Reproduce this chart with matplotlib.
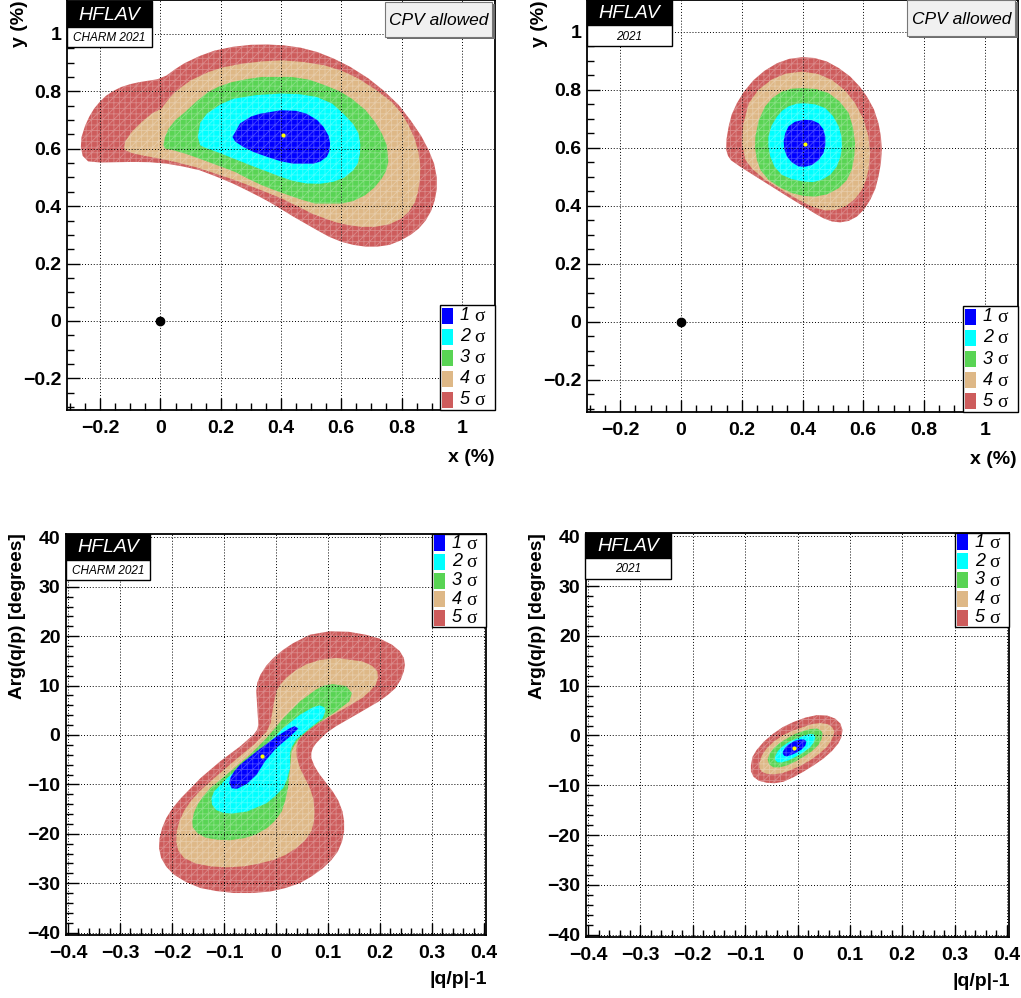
import numpy as np
import matplotlib
matplotlib.use("Agg")
import matplotlib.pyplot as plt
from matplotlib.patches import Rectangle
from matplotlib.ticker import MultipleLocator, FuncFormatter

plt.rcParams['font.family'] = ['Liberation Sans', 'DejaVu Sans']
plt.rcParams['hatch.linewidth'] = 0.6

# ---------------- data (contour boundaries) ----------------
sigma_labels = ["1", "2", "3", "4", "5"]
sigma_colors = ["#0000ff", "#00ffff", "#59d454", "#deb887", "#cd5c5c"]

# top-left: x (%) vs y (%), CHARM 2021
tl_1sigma = [(0.239, 0.641), (0.264, 0.688), (0.300, 0.712), (0.331, 0.722), (0.399, 0.734), (0.450, 0.732),
             (0.485, 0.722), (0.520, 0.700), (0.541, 0.676), (0.558, 0.645), (0.563, 0.618), (0.560, 0.590),
             (0.552, 0.572), (0.530, 0.555), (0.507, 0.548), (0.441, 0.548), (0.400, 0.556), (0.353, 0.572),
             (0.310, 0.588), (0.275, 0.606), (0.248, 0.625)]
tl_2sigma = [(0.124, 0.641), (0.132, 0.690), (0.154, 0.722), (0.200, 0.755), (0.242, 0.774), (0.320, 0.787),
             (0.399, 0.792), (0.460, 0.790), (0.519, 0.780), (0.570, 0.757), (0.607, 0.722), (0.640, 0.685),
             (0.657, 0.653), (0.663, 0.615), (0.662, 0.583), (0.655, 0.550), (0.640, 0.525), (0.610, 0.500),
             (0.574, 0.485), (0.530, 0.478), (0.485, 0.479), (0.440, 0.488), (0.399, 0.502), (0.350, 0.522),
             (0.297, 0.543), (0.240, 0.567), (0.187, 0.589), (0.150, 0.603), (0.132, 0.612)]
tl_3sigma = [(0.010, 0.612), (0.015, 0.640), (0.027, 0.670), (0.050, 0.700), (0.082, 0.728), (0.120, 0.765),
             (0.159, 0.798), (0.195, 0.817), (0.237, 0.832), (0.290, 0.843), (0.336, 0.850), (0.436, 0.850),
             (0.495, 0.840), (0.546, 0.821), (0.595, 0.800), (0.635, 0.774), (0.680, 0.735), (0.712, 0.693),
             (0.735, 0.652), (0.751, 0.612), (0.756, 0.554), (0.748, 0.522), (0.734, 0.496), (0.710, 0.465),
             (0.679, 0.438), (0.640, 0.418), (0.601, 0.409), (0.513, 0.409), (0.470, 0.422), (0.425, 0.438),
             (0.380, 0.455), (0.336, 0.473), (0.290, 0.496), (0.248, 0.519), (0.200, 0.538), (0.159, 0.554),
             (0.120, 0.569), (0.082, 0.583), (0.045, 0.594), (0.015, 0.601)]
tl_4sigma = [(-0.120, 0.605), (-0.117, 0.625), (-0.095, 0.659), (-0.060, 0.695), (-0.029, 0.722), (0.004, 0.740),
             (0.025, 0.770), (0.049, 0.798), (0.100, 0.838), (0.159, 0.867), (0.210, 0.884), (0.270, 0.896),
             (0.335, 0.904), (0.402, 0.908), (0.475, 0.902), (0.546, 0.890), (0.605, 0.870), (0.657, 0.844),
             (0.715, 0.805), (0.767, 0.763), (0.800, 0.723), (0.823, 0.682), (0.843, 0.636), (0.856, 0.589),
             (0.862, 0.540), (0.861, 0.496), (0.855, 0.452), (0.845, 0.415), (0.825, 0.382), (0.800, 0.357),
             (0.760, 0.337), (0.712, 0.328), (0.665, 0.328), (0.624, 0.334), (0.585, 0.343), (0.546, 0.357),
             (0.505, 0.373), (0.469, 0.392), (0.402, 0.427), (0.345, 0.451), (0.292, 0.473), (0.235, 0.495),
             (0.181, 0.514), (0.120, 0.535), (0.049, 0.554), (-0.010, 0.567), (-0.062, 0.577), (-0.095, 0.585),
             (-0.117, 0.595)]
tl_5sigma = [(-0.264, 0.606), (-0.262, 0.640), (-0.250, 0.680), (-0.236, 0.712), (-0.220, 0.740), (-0.200, 0.765),
             (-0.180, 0.785), (-0.155, 0.802), (-0.130, 0.815), (-0.100, 0.825), (-0.070, 0.832), (-0.040, 0.837),
             (-0.010, 0.842), (0.020, 0.855), (0.050, 0.878), (0.080, 0.898), (0.130, 0.923), (0.180, 0.942),
             (0.240, 0.955), (0.300, 0.962), (0.355, 0.963), (0.410, 0.960), (0.465, 0.952), (0.520, 0.937),
             (0.575, 0.914), (0.630, 0.885), (0.690, 0.845), (0.740, 0.803), (0.790, 0.753), (0.830, 0.699),
             (0.865, 0.645), (0.890, 0.595), (0.908, 0.548), (0.917, 0.500), (0.917, 0.460), (0.910, 0.420),
             (0.898, 0.383), (0.880, 0.350), (0.857, 0.322), (0.830, 0.300), (0.796, 0.280), (0.760, 0.265),
             (0.720, 0.259), (0.680, 0.259), (0.640, 0.265), (0.600, 0.276), (0.560, 0.293), (0.520, 0.316),
             (0.480, 0.340), (0.440, 0.364), (0.400, 0.390), (0.360, 0.415), (0.330, 0.432), (0.285, 0.456),
             (0.240, 0.479), (0.185, 0.503), (0.130, 0.525), (0.075, 0.538), (0.020, 0.548), (-0.035, 0.553),
             (-0.090, 0.554), (-0.150, 0.553), (-0.200, 0.552), (-0.240, 0.556), (-0.258, 0.575)]
tl_best = (0.406, 0.647)

# top-right: x (%) vs y (%), 2021
tr_1sigma = [(0.404, 0.697), (0.432, 0.695), (0.453, 0.685), (0.468, 0.665), (0.475, 0.639), (0.475, 0.610),
             (0.469, 0.582), (0.453, 0.558), (0.431, 0.541), (0.409, 0.535), (0.387, 0.536), (0.365, 0.550),
             (0.349, 0.570), (0.340, 0.596), (0.338, 0.622), (0.343, 0.650), (0.354, 0.674), (0.375, 0.690)]
tr_2sigma = [(0.404, 0.754), (0.442, 0.750), (0.475, 0.737), (0.500, 0.710), (0.519, 0.674), (0.528, 0.640),
             (0.530, 0.605), (0.525, 0.570), (0.513, 0.536), (0.492, 0.508), (0.464, 0.490), (0.435, 0.482),
             (0.404, 0.484), (0.365, 0.492), (0.332, 0.507), (0.308, 0.535), (0.294, 0.570), (0.288, 0.605),
             (0.288, 0.639), (0.298, 0.676), (0.316, 0.708), (0.334, 0.729), (0.354, 0.743), (0.380, 0.752)]
tr_3sigma = [(0.398, 0.806), (0.445, 0.803), (0.486, 0.789), (0.522, 0.760), (0.552, 0.720), (0.566, 0.670),
             (0.573, 0.616), (0.570, 0.568), (0.562, 0.524), (0.545, 0.488), (0.519, 0.461), (0.482, 0.440),
             (0.442, 0.432), (0.405, 0.434), (0.365, 0.444), (0.325, 0.464), (0.288, 0.490), (0.262, 0.523),
             (0.250, 0.559), (0.244, 0.600), (0.245, 0.639), (0.256, 0.695), (0.277, 0.743), (0.302, 0.773),
             (0.332, 0.794), (0.365, 0.804)]
tr_4sigma = [(0.398, 0.863), (0.450, 0.855), (0.497, 0.834), (0.540, 0.798), (0.573, 0.754), (0.600, 0.700),
             (0.617, 0.639), (0.622, 0.580), (0.617, 0.524), (0.608, 0.487), (0.595, 0.455), (0.572, 0.423),
             (0.541, 0.398), (0.508, 0.386), (0.475, 0.384), (0.430, 0.398), (0.387, 0.421), (0.330, 0.456),
             (0.277, 0.490), (0.235, 0.527), (0.212, 0.559), (0.201, 0.616), (0.205, 0.680), (0.223, 0.754),
             (0.255, 0.800), (0.299, 0.836), (0.345, 0.856)]
tr_5sigma = [(0.400, 0.913), (0.356, 0.907), (0.316, 0.892), (0.275, 0.866), (0.239, 0.834), (0.208, 0.795),
             (0.184, 0.754), (0.167, 0.715), (0.157, 0.674), (0.150, 0.630), (0.149, 0.593), (0.155, 0.572),
             (0.165, 0.557), (0.195, 0.535), (0.228, 0.513), (0.272, 0.484), (0.316, 0.455), (0.360, 0.426),
             (0.404, 0.398), (0.440, 0.374), (0.469, 0.357), (0.497, 0.346), (0.524, 0.343), (0.552, 0.348),
             (0.579, 0.363), (0.603, 0.388), (0.623, 0.421), (0.640, 0.460), (0.650, 0.501), (0.658, 0.547),
             (0.661, 0.593), (0.658, 0.640), (0.650, 0.685), (0.635, 0.733), (0.612, 0.777), (0.587, 0.813),
             (0.557, 0.846), (0.520, 0.875), (0.480, 0.898), (0.440, 0.910)]
tr_best = (0.409, 0.614)

# bottom-left: |q/p|-1 vs Arg(q/p) [degrees], CHARM 2021
bl_1sigma = [(0.036, 1.8), (0.043, 1.3), (0.027, -0.3), (0.001, -2.6), (-0.021, -5.3), (-0.037, -8.0),
             (-0.056, -9.9), (-0.075, -10.9), (-0.085, -10.8), (-0.090, -9.8), (-0.088, -8.7), (-0.080, -7.3),
             (-0.069, -6.0), (-0.037, -3.3), (0.001, -0.3), (0.027, 1.4)]
bl_2sigma = [(0.084, 6.0), (0.093, 5.6), (0.095, 4.9), (0.090, 3.4), (0.065, 1.4), (0.039, -0.9),
             (0.030, -2.5), (0.027, -3.6), (0.027, -6.7), (0.021, -9.0), (0.014, -10.7), (-0.002, -12.4),
             (-0.018, -13.8), (-0.056, -15.5), (-0.085, -15.9), (-0.100, -15.8), (-0.115, -15.2), (-0.123, -14.1),
             (-0.124, -12.8), (-0.119, -11.4), (-0.094, -8.7), (-0.056, -5.3), (-0.018, -2.0), (0.014, 1.4),
             (0.046, 4.1), (0.071, 5.6)]
bl_3sigma = [(0.109, 10.3), (0.135, 9.9), (0.146, 8.5), (0.141, 6.8), (0.116, 4.8), (0.077, 2.1),
             (0.058, 0.6), (0.046, -0.6), (0.036, -2.0), (0.030, -3.3), (0.027, -6.7), (0.023, -10.7),
             (0.018, -13.2), (0.011, -15.5), (-0.003, -17.5), (-0.018, -18.9), (-0.040, -20.2), (-0.062, -20.9),
             (-0.088, -21.3), (-0.113, -21.2), (-0.135, -20.8), (-0.151, -19.9), (-0.160, -18.7), (-0.161, -17.5),
             (-0.158, -15.8), (-0.151, -14.1), (-0.140, -12.4), (-0.126, -10.7), (-0.088, -7.4), (-0.050, -4.0),
             (-0.018, -0.6), (0.014, 3.4), (0.046, 6.8), (0.077, 9.2), (0.092, 10.0)]
bl_4sigma = [(0.116, 15.6), (0.166, 14.9), (0.185, 14.0), (0.195, 12.9), (0.196, 11.6), (0.192, 10.2),
             (0.180, 8.8), (0.166, 7.5), (0.122, 4.8), (0.077, 2.1), (0.052, 0.1), (0.042, -1.3),
             (0.039, -2.6), (0.040, -4.5), (0.046, -6.7), (0.056, -8.8), (0.065, -10.7), (0.072, -13.0),
             (0.074, -15.5), (0.073, -17.5), (0.068, -19.5), (0.056, -21.3), (0.039, -22.9), (0.018, -24.3),
             (-0.005, -25.3), (-0.035, -26.1), (-0.062, -26.6), (-0.095, -26.8), (-0.126, -26.6), (-0.155, -26.0),
             (-0.177, -24.9), (-0.188, -23.4), (-0.192, -21.6), (-0.191, -19.5), (-0.186, -17.5), (-0.177, -15.4),
             (-0.164, -13.4), (-0.147, -11.4), (-0.126, -9.4), (-0.081, -5.3), (-0.043, -2.0), (-0.018, 0.7),
             (-0.010, 2.5), (-0.008, 4.1), (-0.004, 6.5), (0.001, 8.9), (0.009, 10.3), (0.020, 11.6),
             (0.038, 13.1), (0.058, 14.3), (0.085, 15.2)]
bl_5sigma = [(0.103, 21.0), (0.140, 20.9), (0.173, 20.3), (0.200, 19.5), (0.223, 18.3), (0.238, 17.0),
             (0.246, 15.6), (0.248, 14.2), (0.246, 12.9), (0.240, 11.2), (0.230, 9.5), (0.215, 8.1),
             (0.198, 6.8), (0.154, 4.1), (0.116, 1.8), (0.098, 0.5), (0.087, -0.6), (0.077, -1.7),
             (0.071, -2.6), (0.068, -3.6), (0.068, -4.7), (0.074, -6.3), (0.084, -8.0), (0.109, -11.4),
             (0.120, -13.3), (0.128, -15.5), (0.131, -17.5), (0.131, -19.5), (0.127, -21.6), (0.119, -23.6),
             (0.106, -25.4), (0.090, -27.0), (0.069, -28.6), (0.046, -30.0), (0.018, -31.0), (-0.011, -31.7),
             (-0.045, -32.0), (-0.081, -32.0), (-0.115, -31.6), (-0.145, -31.0), (-0.173, -29.8), (-0.196, -28.3),
             (-0.211, -26.7), (-0.221, -24.9), (-0.225, -22.9), (-0.224, -20.9), (-0.219, -18.8), (-0.211, -16.8),
             (-0.199, -14.8), (-0.183, -12.8), (-0.145, -8.7), (-0.107, -5.3), (-0.069, -2.3), (-0.043, 0.1),
             (-0.036, 1.1), (-0.034, 2.1), (-0.035, 3.8), (-0.036, 5.5), (-0.038, 8.9), (-0.036, 10.6),
             (-0.030, 12.2), (-0.019, 14.0), (-0.005, 15.6), (0.013, 17.2), (0.033, 18.6), (0.065, 20.3)]
bl_best = (-0.026, -4.3)

# bottom-right: |q/p|-1 vs Arg(q/p) [degrees], 2021
br_1sigma = [(-0.028, -3.3), (-0.024, -2.5), (-0.017, -1.8), (-0.006, -1.1), (0.005, -0.8), (0.013, -0.8),
             (0.017, -1.2), (0.015, -2.0), (0.008, -2.8), (-0.001, -3.4), (-0.011, -3.9), (-0.020, -4.2),
             (-0.025, -4.1), (-0.028, -3.7)]
br_2sigma = [(-0.043, -4.3), (-0.038, -3.2), (-0.030, -2.3), (-0.016, -1.3), (-0.001, -0.6), (0.013, 0.0),
             (0.024, 0.3), (0.031, 0.2), (0.034, -0.4), (0.031, -1.4), (0.024, -2.4), (0.011, -3.4),
             (-0.004, -4.3), (-0.017, -5.0), (-0.030, -5.4), (-0.038, -5.4), (-0.043, -4.9)]
br_3sigma = [(-0.057, -4.8), (-0.053, -3.6), (-0.046, -2.6), (-0.034, -1.5), (-0.020, -0.6), (-0.005, 0.3),
             (0.011, 0.9), (0.025, 1.3), (0.037, 1.4), (0.045, 1.0), (0.048, 0.4), (0.046, -0.7),
             (0.040, -1.9), (0.027, -3.2), (0.011, -4.3), (-0.005, -5.3), (-0.020, -6.0), (-0.034, -6.4),
             (-0.046, -6.4), (-0.054, -5.8)]
br_4sigma = [(-0.073, -5.6), (-0.068, -4.0), (-0.059, -2.6), (-0.045, -1.2), (-0.027, 0.1), (-0.008, 1.0),
             (0.011, 1.7), (0.028, 2.3), (0.043, 2.5), (0.057, 2.3), (0.066, 1.7), (0.070, 0.9),
             (0.069, 0.1), (0.064, -1.1), (0.056, -2.3), (0.041, -3.7), (0.024, -5.0), (0.005, -6.1),
             (-0.014, -7.0), (-0.030, -7.6), (-0.046, -7.8), (-0.059, -7.7), (-0.068, -7.3), (-0.073, -6.5)]
br_5sigma = [(-0.089, -6.0), (-0.086, -4.3), (-0.078, -2.9), (-0.064, -1.2), (-0.046, 0.4), (-0.028, 1.7),
             (-0.008, 2.7), (0.015, 3.6), (0.037, 4.1), (0.057, 4.0), (0.072, 3.4), (0.082, 2.4),
             (0.086, 1.1), (0.084, -0.3), (0.078, -1.6), (0.066, -3.1), (0.050, -4.6), (0.031, -6.0),
             (0.011, -7.3), (-0.008, -8.4), (-0.027, -9.3), (-0.044, -9.6), (-0.059, -9.5), (-0.074, -9.1),
             (-0.084, -8.3), (-0.089, -7.2)]
br_best = (-0.006, -2.5)

no_mixing_point = (0.0, 0.0)

# ---------------- figure ----------------
W, H = 1021, 998
fig = plt.figure(figsize=(W / 100, H / 100), dpi=100)
fig.patch.set_facecolor("white")


def fx(px):
    return px / W


def fy(py):
    return 1 - py / H


def add_axes_px(x0, y0, x1, y1):
    return fig.add_axes([fx(x0), fy(y1), fx(x1 - x0), (y1 - y0) / H])


def fmt(v, p):
    s = "%g" % round(v, 6)
    if s in ("-0",):
        s = "0"
    return s.replace("-", "\u2212")


def style_axes(ax, xlim, ylim, xmaj, xmin, ymaj, ymin):
    ax.set_xlim(*xlim)
    ax.set_ylim(*ylim)
    ax.xaxis.set_major_locator(MultipleLocator(xmaj))
    ax.xaxis.set_minor_locator(MultipleLocator(xmin))
    ax.yaxis.set_major_locator(MultipleLocator(ymaj))
    ax.yaxis.set_minor_locator(MultipleLocator(ymin))
    ax.xaxis.set_major_formatter(FuncFormatter(fmt))
    ax.yaxis.set_major_formatter(FuncFormatter(fmt))
    ax.tick_params(which="both", direction="in", top=False, right=False, width=1, color="black")
    ax.tick_params(which="major", length=9)
    ax.tick_params(which="minor", length=5)
    ax.tick_params(axis="x", which="major", pad=7)
    ax.tick_params(axis="y", which="major", pad=4)
    for lab in ax.get_xticklabels() + ax.get_yticklabels():
        lab.set_fontweight("bold")
        lab.set_fontsize(14)
    ax.grid(True, which="major", color="black", linestyle=(0, (1, 2)), linewidth=0.7, zorder=5)
    ax.set_axisbelow(False)
    for sp in ax.spines.values():
        sp.set_linewidth(1.3)
        sp.set_zorder(6)


def draw_regions(ax, polys, best):
    for poly, col in zip(polys[::-1], sigma_colors[::-1]):
        xs = [p[0] for p in poly]
        ys = [p[1] for p in poly]
        ax.fill(xs, ys, facecolor=col, edgecolor=(1, 1, 1, 0.28), hatch="+++///",
                linewidth=0, zorder=2, joinstyle="round")
    ax.plot([best[0]], [best[1]], "o", color="#ffff00", markersize=3, markeredgewidth=0, zorder=7)


def hflav_box(x0, y0, x1, ymid, y1, sub):
    fig.add_artist(Rectangle((fx(x0), fy(ymid)), fx(x1 - x0), (ymid - y0) / H,
                             transform=fig.transFigure, facecolor="black", edgecolor="black",
                             linewidth=1, zorder=20))
    fig.add_artist(Rectangle((fx(x0), fy(y1)), fx(x1 - x0), (y1 - ymid) / H,
                             transform=fig.transFigure, facecolor="white", edgecolor="black",
                             linewidth=1, zorder=20))
    fig.text(fx((x0 + x1) / 2), fy((y0 + ymid) / 2 + 1), "HFLAV", color="white", style="italic",
             fontsize=14, ha="center", va="center", zorder=21)
    fig.text(fx((x0 + x1) / 2), fy((ymid + y1) / 2 + 1), sub, color="black", style="italic",
             fontsize=8.5, ha="center", va="center", zorder=21)


def cpv_box(x0, y0, x1, y1):
    fig.add_artist(Rectangle((fx(x0 + 2), fy(y1 + 2)), fx(x1 - x0), (y1 - y0) / H,
                             transform=fig.transFigure, facecolor="#6e6e6e", edgecolor="none",
                             zorder=19))
    fig.add_artist(Rectangle((fx(x0), fy(y1)), fx(x1 - x0 - 1), (y1 - y0) / H,
                             transform=fig.transFigure, facecolor="#f0f0f0", edgecolor="#777777",
                             linewidth=0.8, zorder=20))
    fig.text(fx((x0 + x1) / 2), fy((y0 + y1) / 2 + 1), "CPV allowed", color="black", style="italic",
             fontsize=12.5, ha="center", va="center", zorder=21)


def legend_box(x0, y0, x1, y1):
    fig.add_artist(Rectangle((fx(x0), fy(y1)), fx(x1 - x0), (y1 - y0) / H,
                             transform=fig.transFigure, facecolor="white", edgecolor="black",
                             linewidth=1, zorder=20))
    pitch = (y1 - y0) / 5.0
    for i, (lab, col) in enumerate(zip(sigma_labels, sigma_colors)):
        cy = y0 + pitch * (i + 0.5)
        fig.add_artist(Rectangle((fx(x0 + 2), fy(cy + 8)), fx(11), 16 / H,
                                 transform=fig.transFigure, facecolor=col, edgecolor="none",
                                 zorder=21))
        fig.text(fx(x0 + 20), fy(cy), lab, style="italic", fontsize=13, ha="left",
                 va="center", zorder=22)
        fig.text(fx(x0 + 34), fy(cy + 1), "\u03c3", family=["Liberation Serif", "DejaVu Serif"],
                 fontsize=14, ha="left", va="center", zorder=22)


# ---- top-left
ax1 = add_axes_px(67, 0, 495, 410)
draw_regions(ax1, [tl_1sigma, tl_2sigma, tl_3sigma, tl_4sigma, tl_5sigma], tl_best)
ax1.plot([no_mixing_point[0]], [no_mixing_point[1]], "o", color="black", markersize=6, zorder=7)
style_axes(ax1, (-0.31, 1.11), (-0.31, 1.118), 0.2, 0.05, 0.2, 0.05)

# ---- top-right
ax2 = add_axes_px(587, 0, 1018, 412)
draw_regions(ax2, [tr_1sigma, tr_2sigma, tr_3sigma, tr_4sigma, tr_5sigma], tr_best)
ax2.plot([no_mixing_point[0]], [no_mixing_point[1]], "o", color="black", markersize=6, zorder=7)
style_axes(ax2, (-0.309, 1.109), (-0.311, 1.11), 0.2, 0.05, 0.2, 0.05)

# ---- bottom-left
ax3 = add_axes_px(66, 534, 486, 935)
draw_regions(ax3, [bl_1sigma, bl_2sigma, bl_3sigma, bl_4sigma, bl_5sigma], bl_best)
style_axes(ax3, (-0.404, 0.404), (-40.5, 40.7), 0.1, 0.02, 10, 2)

# ---- bottom-right
ax4 = add_axes_px(586, 533, 1009, 937)
draw_regions(ax4, [br_1sigma, br_2sigma, br_3sigma, br_4sigma, br_5sigma], br_best)
style_axes(ax4, (-0.404, 0.404), (-40.5, 40.7), 0.1, 0.02, 10, 2)

# axis titles
fig.text(fx(495), fy(457), "x (%)", fontweight="bold", fontsize=14, ha="right", va="center")
fig.text(fx(1017), fy(459), "x (%)", fontweight="bold", fontsize=14, ha="right", va="center")
fig.text(fx(20), fy(0), "y (%)", fontweight="bold", fontsize=14, ha="center", va="top", rotation=90)
fig.text(fx(540), fy(0), "y (%)", fontweight="bold", fontsize=14, ha="center", va="top", rotation=90)
fig.text(fx(487), fy(980), "|q/p|-1", fontweight="bold", fontsize=14, ha="right", va="center")
fig.text(fx(1010), fy(981), "|q/p|-1", fontweight="bold", fontsize=14, ha="right", va="center")
fig.text(fx(18), fy(533), "Arg(q/p) [degrees]", fontweight="bold", fontsize=13.8, ha="center",
         va="top", rotation=90)
fig.text(fx(537), fy(533), "Arg(q/p) [degrees]", fontweight="bold", fontsize=13.8, ha="center",
         va="top", rotation=90)

# decorations
hflav_box(67, 1, 152, 27, 47, "CHARM 2021")
hflav_box(587, 0, 672, 25, 46, "2021")
hflav_box(66, 534, 150, 560, 580, "CHARM 2021")
hflav_box(585, 533, 671, 558, 579, "2021")
cpv_box(385, 2, 493, 37)
cpv_box(907, 0, 1016, 36)
legend_box(440, 305, 495, 410)
legend_box(963, 306, 1018, 412)
legend_box(432, 534, 486, 627)
legend_box(955, 533, 1009, 627)

fig.savefig("out.png", dpi=100)
